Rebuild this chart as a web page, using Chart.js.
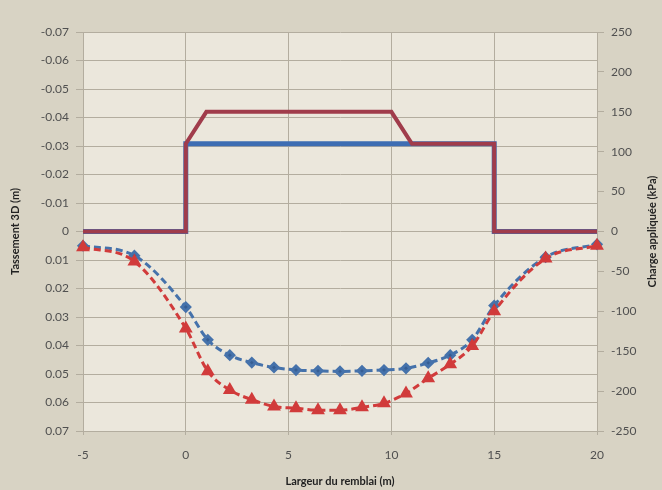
<!DOCTYPE html>
<html>
<head>
<meta charset="utf-8">
<script src="https://cdn.jsdelivr.net/npm/chart.js@4.4.0/dist/chart.umd.min.js"></script>
<style>
  html, body { margin: 0; padding: 0; background: #d8d3c4; }
  #wrap { width: 662px; height: 490px; }
</style>
</head>
<body>
<div id="wrap"><canvas id="tassement"></canvas></div>
<script>
// positions le long du remblai (m)
const xPoints = [-5, -2.5, 0, 1.07, 2.14, 3.21, 4.29, 5.36, 6.43, 7.5, 8.57, 9.64, 10.71, 11.79, 12.86, 13.93, 15, 17.5, 20];
const tassementBleu = [0.005, 0.0085, 0.0265, 0.038, 0.0434, 0.046, 0.0477, 0.0486, 0.0489, 0.0491, 0.0489, 0.0486, 0.048, 0.0461, 0.0434, 0.038, 0.026, 0.009, 0.0045];
const tassementRouge = [0.0055, 0.0105, 0.034, 0.049, 0.0556, 0.059, 0.0614, 0.062, 0.0627, 0.0627, 0.0617, 0.0603, 0.0568, 0.0515, 0.0466, 0.0402, 0.028, 0.0095, 0.005];

// charges appliquées (kPa)
const chargeBleueX = [-5, 0, 0, 15, 15, 20];
const chargeBleueY = [0, 0, 110, 110, 0, 0];
const chargeRougeX = [-5, 0, 0, 1, 10, 11, 15, 15, 20];
const chargeRougeY = [0, 0, 110, 150, 150, 110, 110, 0, 0];

const titreDroite = 'Charge appliquée (kPa)';

const tickColor = '#505050';
const gridColor = '#b3ad9f';

function toPoints(xs, ys) {
    return xs.map(function (x, i) { return { x: x, y: ys[i] }; });
}

const fondZone = {
    id: 'fondZone',
    beforeDraw: function (chart) {
        const ctx = chart.ctx;
        const a = chart.chartArea;
        ctx.save();
        ctx.fillStyle = '#d8d3c4';
        ctx.fillRect(0, 0, chart.width, chart.height);
        ctx.fillStyle = '#ebe7dc';
        ctx.fillRect(a.left, a.top, a.right - a.left, a.bottom - a.top);
        ctx.restore();
    },
    // titre de l'axe droit, lu de bas en haut comme dans Excel
    afterDraw: function (chart) {
        const ctx = chart.ctx;
        const a = chart.chartArea;
        ctx.save();
        ctx.translate(652, (a.top + a.bottom) / 2);
        ctx.rotate(-Math.PI / 2);
        ctx.font = 'bold 11px Lato';
        ctx.fillStyle = '#222';
        ctx.textAlign = 'center';
        ctx.textBaseline = 'middle';
        ctx.fillText(titreDroite, 0, 0);
        ctx.restore();
    }
};

const config = {
    type: 'line',
    data: {
        datasets: [
            {
                label: 'Tassement 3D',
                data: toPoints(xPoints, tassementRouge),
                yAxisID: 'y',
                borderColor: '#d13b3b',
                backgroundColor: '#d13b3b',
                borderWidth: 3,
                borderDash: [7, 4],
                pointStyle: 'triangle',
                pointRadius: 5,
                cubicInterpolationMode: 'monotone',
                clip: false,
                order: 0
            },
            {
                label: 'Tassement 3D (bleu)',
                data: toPoints(xPoints, tassementBleu),
                yAxisID: 'y',
                borderColor: '#4572ab',
                backgroundColor: '#365e94',
                borderWidth: 3,
                borderDash: [7, 4],
                pointStyle: 'rectRot',
                pointRadius: 4,
                cubicInterpolationMode: 'monotone',
                clip: false,
                order: 1
            },
            {
                label: 'Charge rouge',
                data: toPoints(chargeRougeX, chargeRougeY),
                yAxisID: 'y2',
                borderColor: '#a03c4b',
                borderWidth: 4,
                pointRadius: 0,
                tension: 0,
                order: 2
            },
            {
                label: 'Charge bleue',
                data: toPoints(chargeBleueX, chargeBleueY),
                yAxisID: 'y2',
                borderColor: '#3d6db3',
                borderWidth: 5,
                pointRadius: 0,
                tension: 0,
                order: 3
            }
        ]
    },
    options: {
        responsive: true,
        maintainAspectRatio: false,
        animation: false,
        layout: {
            padding: { top: 32, left: 0, right: 0, bottom: 0 }
        },
        scales: {
            x: {
                type: 'linear',
                min: -5,
                max: 20,
                ticks: {
                    stepSize: 5,
                    color: tickColor,
                    font: { family: 'Lato', size: 12 },
                    padding: 13
                },
                grid: { color: gridColor, tickLength: 4 },
                border: { color: gridColor },
                title: {
                    display: true,
                    text: 'Largeur du remblai (m)',
                    color: '#222',
                    font: { family: 'Lato', size: 11, weight: 'bold' },
                    padding: { top: 0, bottom: 2 }
                },
                afterFit: function (scale) { scale.height = 59; }
            },
            y: {
                type: 'linear',
                position: 'left',
                reverse: true,
                min: -0.07,
                max: 0.07,
                ticks: {
                    stepSize: 0.01,
                    maxTicksLimit: 20,
                    color: tickColor,
                    font: { family: 'Lato', size: 12 },
                    padding: 7,
                    callback: function (v) {
                        return Math.abs(v) < 1e-9 ? '0' : v.toFixed(2);
                    }
                },
                grid: { color: gridColor, tickLength: 7 },
                border: { color: gridColor },
                title: {
                    display: true,
                    text: 'Tassement 3D (m)',
                    color: '#222',
                    font: { family: 'Lato', size: 11, weight: 'bold' },
                    padding: { top: 9, bottom: 0 }
                },
                afterFit: function (scale) { scale.width = 83; }
            },
            y2: {
                type: 'linear',
                position: 'right',
                min: -250,
                max: 250,
                ticks: {
                    stepSize: 50,
                    color: tickColor,
                    font: { family: 'Lato', size: 12 },
                    padding: 7
                },
                grid: { drawOnChartArea: false, color: gridColor, tickLength: 7 },
                border: { color: gridColor },
                title: { display: false },
                afterFit: function (scale) { scale.width = 65; }
            }
        },
        plugins: {
            legend: { display: false },
            tooltip: { enabled: false }
        }
    },
    plugins: [fondZone]
};

const chart = new Chart(document.getElementById('tassement'), config);
</script>
</body>
</html>
